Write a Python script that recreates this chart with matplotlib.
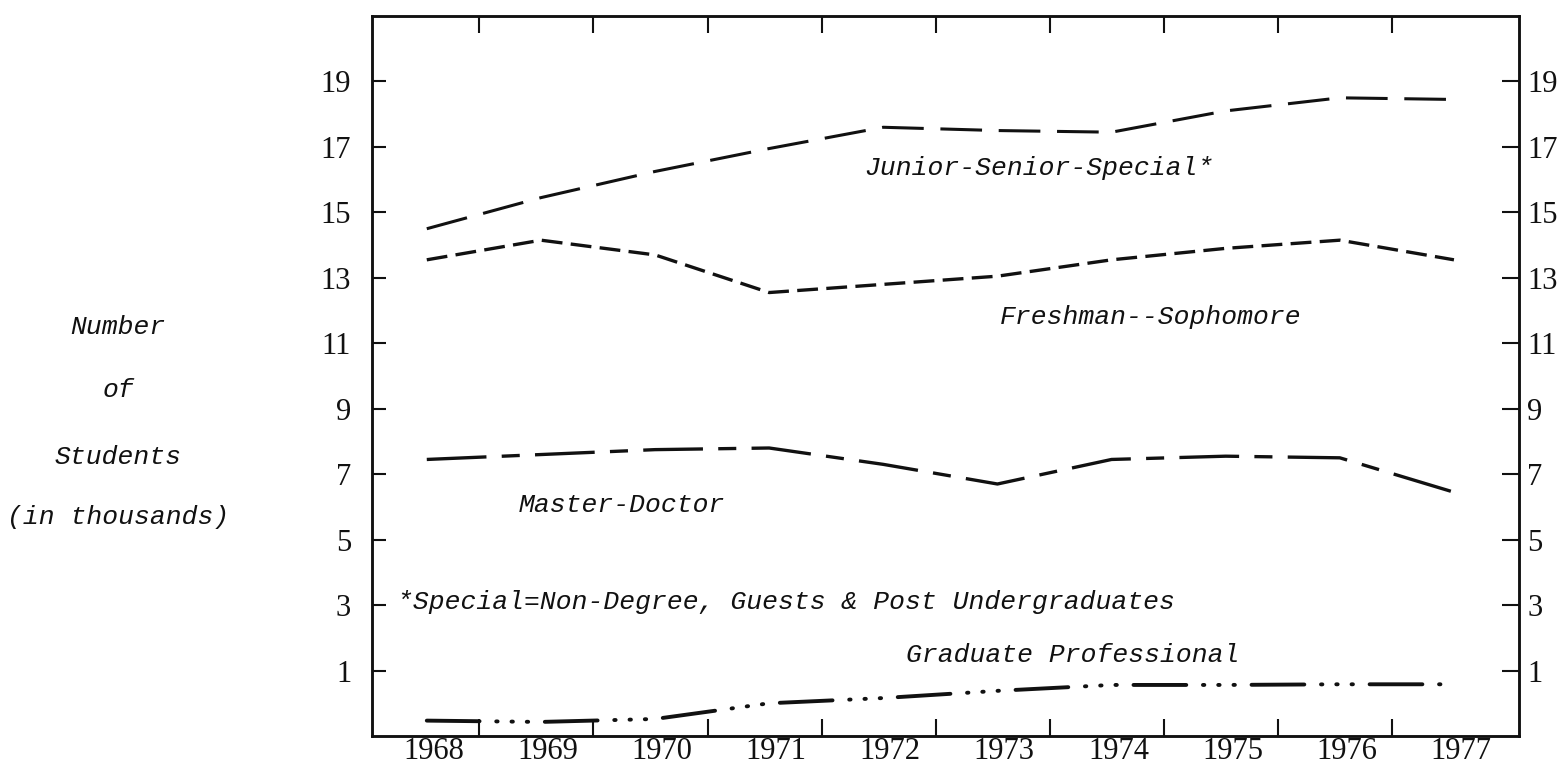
import matplotlib
matplotlib.use('Agg')
import matplotlib.pyplot as plt

plt.rcParams['lines.scale_dashes'] = False

years = [1968, 1969, 1970, 1971, 1972, 1973, 1974, 1975, 1976, 1977]
year_labels = [str(y) for y in years]
junior_senior = [14.5, 15.45, 16.25, 16.95, 17.6, 17.5, 17.45, 18.1, 18.5, 18.45]
freshman_soph = [13.55, 14.15, 13.7, 12.55, 12.8, 13.05, 13.55, 13.9, 14.15, 13.55]
master_doctor = [7.45, 7.6, 7.75, 7.8, 7.3, 6.7, 7.45, 7.55, 7.5, 6.45]
grad_prof = [-0.53, -0.57, -0.48, 0.0, 0.16, 0.38, 0.56, 0.56, 0.58, 0.58]
y_ticks = [1, 3, 5, 7, 9, 11, 13, 15, 17, 19]

ink = '#111111'
mono = 'Liberation Mono'
serif = 'Liberation Serif'

fig = plt.figure(figsize=(15.67, 7.66), dpi=100)
ax = fig.add_axes([372 / 1567, 1 - 736 / 766, (1519 - 372) / 1567, 720 / 766])

ax.plot(years, junior_senior, color=ink, lw=2.2, linestyle=(0, (30, 12)))
ax.plot(years, freshman_soph, color=ink, lw=2.4, linestyle=(0, (15, 6)))
ax.plot(years, master_doctor, color=ink, lw=2.4, linestyle=(0, (43, 11, 13, 11)))
ax.plot(years, grad_prof, color=ink, lw=2.8, dash_capstyle='round',
        linestyle=(0, (38, 12, 1, 10, 1, 10, 1, 12)))

ax.set_xlim(1967.52, 1977.57)
ax.set_ylim(-1, 21)

# x: inward ticks between the years, year labels under the points
ax.set_xticks([y + 0.46 for y in years[:-1]])
ax.set_xticklabels([])
ax.set_xticks([y + 0.06 for y in years], year_labels, minor=True)
ax.tick_params(axis='x', which='major', direction='in', top=True, bottom=True,
               length=12, width=1.5, color=ink)
ax.tick_params(axis='x', which='minor', length=0, pad=1, labelsize=22,
               labelcolor=ink)
for t in ax.get_xticklabels(minor=True):
    t.set_fontfamily(serif)

# y: labels on both sides
ax.set_yticks(y_ticks)
ax.set_yticklabels([str(v) for v in y_ticks])
ax.tick_params(axis='y', direction='in', left=True, right=False, length=10,
               width=1.5, pad=15, labelsize=22, labelcolor=ink, color=ink)
for t in ax.get_yticklabels():
    t.set_fontfamily(serif)

ax2 = ax.twinx()
ax2.set_ylim(-1, 21)
ax2.set_yticks(y_ticks)
ax2.set_yticklabels([str(v) for v in y_ticks])
ax2.tick_params(axis='y', direction='in', right=True, length=12, width=1.5,
                pad=6, labelsize=22, labelcolor=ink, color=ink)
for t in ax2.get_yticklabels():
    t.set_fontfamily(serif)

for a in (ax, ax2):
    for s in a.spines.values():
        s.set_linewidth(1.8)
        s.set_color(ink)

txt = dict(family=mono, style='italic', fontsize=19, color=ink,
           ha='center', va='center')
ax.text(1973.36, 16.36, 'Junior-Senior-Special*', **txt)
ax.text(1974.34, 11.8, 'Freshman--Sophomore', **txt)
ax.text(1969.71, 6.06, 'Master-Doctor', **txt)
ax.text(1971.15, 3.1, '*Special=Non-Degree, Guests & Post Undergraduates', **txt)
ax.text(1973.66, 1.48, 'Graduate Professional', **txt)

for label, py in [('Number', 327), ('of', 390), ('Students', 457),
                  ('(in thousands)', 517)]:
    fig.text(118 / 1567, 1 - py / 766, label, **txt)

fig.savefig('out.png', dpi=100, facecolor='white')
